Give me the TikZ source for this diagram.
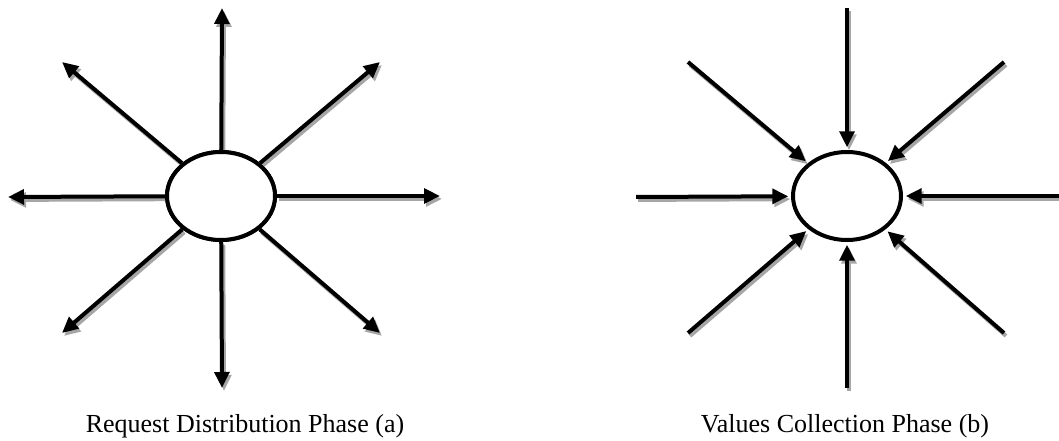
\documentclass[tikz,border=0pt]{standalone}
\usepackage{fontspec}
\setmainfont{Liberation Serif}
\usetikzlibrary{arrows.meta,shapes.geometric}
\begin{document}
\begin{tikzpicture}[x=0.75pt,y=-0.75pt,
  hub/.style={ellipse,draw=black,line width=3pt,fill=white,minimum width=108*0.75pt,minimum height=88*0.75pt,inner sep=0pt},
  shd/.style={draw=gray!70,line width=3pt,transform canvas={shift={(1.5pt,-2.2pt)}},-{Triangle[length=12pt,width=11pt]}},
  ray/.style={draw=black,line width=3pt,-{Triangle[length=12pt,width=11pt]}},
  captext/.style={font=\fontsize{19.5pt}{23pt}\selectfont,anchor=base}]
\useasboundingbox (0,0) rectangle (1059,441);
% left diagram
\node[hub] (L) at (221,196) {};
\coordinate (Ln) at (222,8);
\coordinate (Ls) at (222,388);
\coordinate (Lw) at (8,197);
\coordinate (Le) at (440,196);
\coordinate (Lnw) at (62,62);
\coordinate (Lne) at (380,62);
\coordinate (Lsw) at (62,333);
\coordinate (Lse) at (380,333);
\foreach \t in {Ln,Ls,Lw,Le,Lnw,Lne,Lsw,Lse}{
  \draw[shd] (L) -- (\t);
}
\foreach \t in {Ln,Ls,Lw,Le,Lnw,Lne,Lsw,Lse}{
  \draw[ray] (L) -- (\t);
}
\node[hub] (L2) at (221,196) {};
% right diagram
\node[hub] (R) at (847,196) {};
\coordinate (Rn) at (847,8);
\coordinate (Rs) at (847,388);
\coordinate (Rw) at (636,197);
\coordinate (Re) at (1059,196);
\coordinate (Rnw) at (688,62);
\coordinate (Rne) at (1004,62);
\coordinate (Rsw) at (688,333);
\coordinate (Rse) at (1004,333);
\foreach \s in {Rn,Rs,Rw,Re,Rnw,Rne,Rsw,Rse}{
  \draw[shd,shorten >=2pt] (\s) -- (R);
}
\foreach \s in {Rn,Rs,Rw,Re,Rnw,Rne,Rsw,Rse}{
  \draw[ray,shorten >=2pt] (\s) -- (R);
}
% captions
\node[captext] (ca) at (245,432) {Request Distribution Phase (a)};
\node[captext] (cb) at (845,432) {Values Collection Phase (b)};
\end{tikzpicture}
\end{document}
